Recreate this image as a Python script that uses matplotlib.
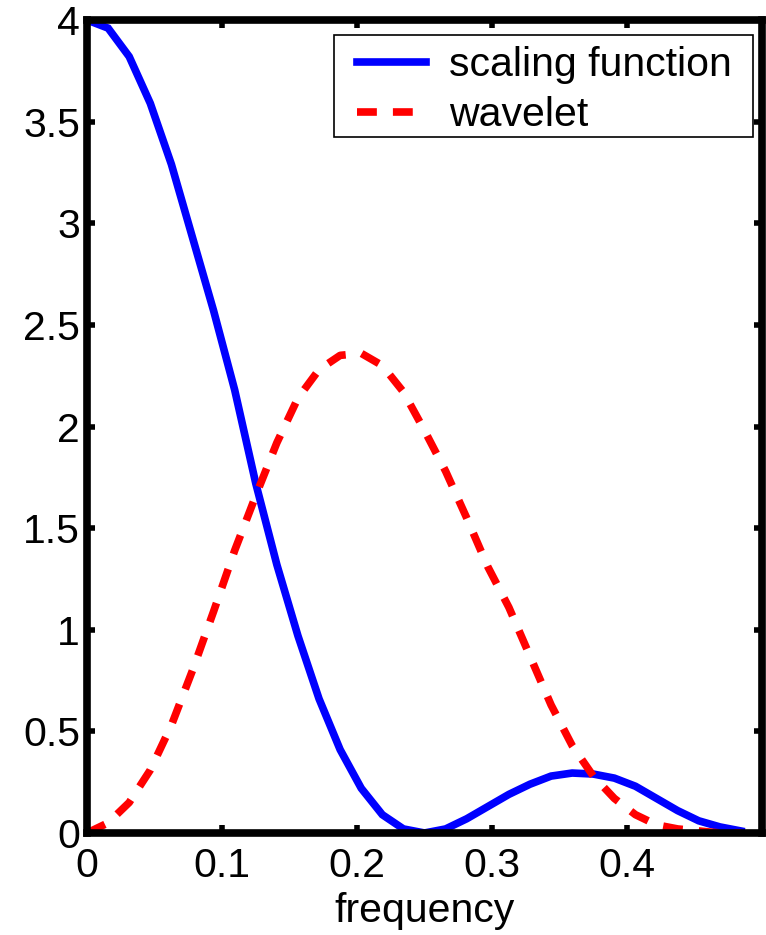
import numpy as np
import matplotlib
matplotlib.use("Agg")
import matplotlib.pyplot as plt
from matplotlib.patches import Rectangle

plt.rcParams['font.family'] = ['Liberation Sans', 'DejaVu Sans']

# frequency samples (k/64)
freq = [k / 64 for k in range(32)]

scaling = [4.00, 3.96, 3.82, 3.59, 3.29, 2.93, 2.57, 2.18,
           1.72, 1.32, 0.97, 0.66, 0.41, 0.22, 0.09, 0.02,
           0.00, 0.02, 0.07, 0.13, 0.19, 0.24, 0.28, 0.295,
           0.29, 0.27, 0.23, 0.17, 0.11, 0.06, 0.03, 0.01]

wavelet = [0.00, 0.05, 0.15, 0.31, 0.53, 0.80, 1.09, 1.39,
           1.66, 1.92, 2.14, 2.28, 2.35, 2.36, 2.30, 2.17,
           1.98, 1.78, 1.55, 1.31, 1.11, 0.87, 0.63, 0.43,
           0.28, 0.17, 0.09, 0.04, 0.02, 0.01, 0.00, 0.00]

xticks = [0, 0.1, 0.2, 0.3, 0.4]
xticklabels = ['0', '0.1', '0.2', '0.3', '0.4']
yticks = [0, 0.5, 1, 1.5, 2, 2.5, 3, 3.5, 4]
yticklabels = ['0', '0.5', '1', '1.5', '2', '2.5', '3', '3.5', '4']

fig = plt.figure(figsize=(7.66, 9.35), dpi=100)
ax = fig.add_axes([0.1136, 0.1091, 0.8812, 0.8695])

ax.plot(freq, scaling, color='#0000ff', lw=5.5, label='scaling function',
        solid_joinstyle='miter')
ax.plot(freq, wavelet, color='#ff0000', lw=5.5, label='wavelet',
        dashes=(2.6, 2.1), dash_capstyle='butt')

ax.set_xlim(0, 0.5)
ax.set_ylim(0, 4)
ax.set_xticks(xticks)
ax.set_xticklabels(xticklabels)
ax.set_yticks(yticks)
ax.set_yticklabels(yticklabels)
ax.tick_params(direction='in', length=6, width=4, labelsize=29.5,
               top=True, right=True)
ax.tick_params(axis='x', pad=10)
ax.tick_params(axis='y', pad=5)
for s in ax.spines.values():
    s.set_linewidth(5.5)
ax.set_xlabel('frequency', fontsize=29.5, labelpad=5)

# legend frame drawn separately (wider horizontal than vertical padding)
frame = Rectangle((0.366, 0.856), 0.6207, 0.1255, transform=ax.transAxes,
                  facecolor='white', edgecolor='black', linewidth=1.2,
                  zorder=4)
ax.add_patch(frame)
leg = ax.legend(loc='upper left', bbox_to_anchor=(0.400, 0.968),
                borderaxespad=0, borderpad=0, fontsize=29.5, frameon=False,
                handlelength=1.68, handletextpad=0.56, labelspacing=0.3)
leg.set_zorder(5)

fig.savefig('out.png', dpi=100)
